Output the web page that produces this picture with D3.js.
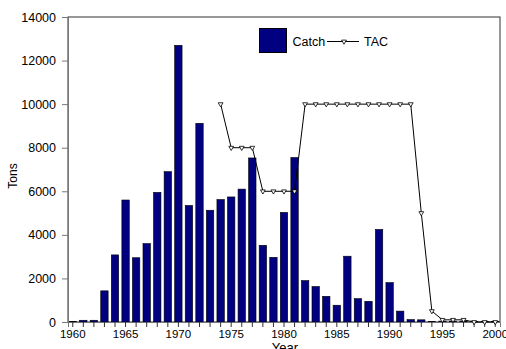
<!DOCTYPE html>
<html><head><meta charset="utf-8">
<script src="https://cdn.jsdelivr.net/npm/d3@7"></script>
<style>body{margin:0;background:#fff}svg{display:block;font-family:"Liberation Sans",Arial,sans-serif}</style>
</head><body>
<script>
const years = d3.range(1960, 2001);
const catchValues = [30,80,80,1430,3080,5600,2950,3600,5950,6900,12700,5350,9120,5130,5620,5740,6100,7530,3520,2970,5030,7550,1900,1630,1180,770,3020,1070,950,4250,1810,500,110,100,20,40,40,40,30,30,30];
const tacYears = d3.range(1974, 2001);
const tacValues = [10000,8000,8000,8000,6000,6000,6000,6000,10000,10000,10000,10000,10000,10000,10000,10000,10000,10000,10000,5000,500,100,100,100,0,0,0];
const yTicks = [0,2000,4000,6000,8000,10000,12000,14000];
const xLabels = [1960,1965,1970,1975,1980,1985,1990,1995,2000];

const W=506,H=349;
const svg=d3.select("body").append("svg").attr("width",W).attr("height",H);
const x=d3.scaleBand().domain(years).range([68,500]).paddingInner(0.3).paddingOuter(0.1);
const y=d3.scaleLinear().domain([0,14000]).range([322,17]);

// frame
svg.append("rect").attr("x",68).attr("y",17).attr("width",432).attr("height",305)
  .attr("fill","none").attr("stroke","#333").attr("stroke-width",1);

// bars
svg.append("g").selectAll("rect").data(years).join("rect")
  .attr("x",d=>x(d)).attr("width",x.bandwidth())
  .attr("y",(d,i)=>y(catchValues[i])).attr("height",(d,i)=>y(0)-y(catchValues[i]))
  .attr("fill","#000080").attr("stroke","#000").attr("stroke-width",0.6);

// y axis
const ya=svg.append("g").attr("transform","translate(68,0)")
  .call(d3.axisLeft(y).tickValues(yTicks).tickSize(6).tickPadding(6).tickFormat(d3.format("d")));
ya.select(".domain").attr("stroke","#777");
ya.selectAll(".tick line").attr("stroke","#777");
ya.selectAll("text").attr("font-size",12.5).attr("fill","#000").attr("font-family","Liberation Sans, Arial, sans-serif");

// x axis
const xa=svg.append("g").attr("transform","translate(0,322)")
  .call(d3.axisBottom(x).tickSize(5).tickPadding(3).tickFormat(d=>xLabels.includes(d)?d:""));
xa.select(".domain").attr("stroke","#777");
xa.selectAll(".tick line").attr("stroke","#333");
xa.selectAll("text").attr("font-size",11.5).attr("fill","#000").attr("font-family","Liberation Sans, Arial, sans-serif");

// TAC line
const line=d3.line().x(d=>x(d[0])+x.bandwidth()/2).y(d=>y(d[1]));
const tac=tacYears.map((d,i)=>[d,tacValues[i]]);
svg.append("path").datum(tac).attr("d",line).attr("fill","none").attr("stroke","#000").attr("stroke-width",1);
const tri=d3.symbol().type(d3.symbolTriangle).size(10);
svg.append("g").selectAll("path").data(tac).join("path")
  .attr("d",tri).attr("transform",d=>`translate(${x(d[0])+x.bandwidth()/2},${y(d[1])}) rotate(180)`)
  .attr("fill","#fff").attr("stroke","#000").attr("stroke-width",0.8);

// axis titles
svg.append("text").attr("transform","translate(17,176) rotate(-90)").attr("text-anchor","middle")
  .attr("font-size",12).text("Tons");
svg.append("text").attr("x",285).attr("y",352).attr("text-anchor","middle").attr("font-size",13).text("Year");

// legend
const lg=svg.append("g");
lg.append("rect").attr("x",259.5).attr("y",28.5).attr("width",27).attr("height",24).attr("fill","#000080").attr("stroke","#000");
lg.append("text").attr("x",292.5).attr("y",46).attr("font-size",12.5).text("Catch");
lg.append("line").attr("x1",327).attr("x2",359).attr("y1",41.5).attr("y2",41.5).attr("stroke","#000");
lg.append("path").attr("d",tri).attr("transform","translate(344,41.5) rotate(180)").attr("fill","#fff").attr("stroke","#000").attr("stroke-width",0.8);
lg.append("text").attr("x",364).attr("y",46).attr("font-size",12.5).text("TAC");
</script>
</body></html>
